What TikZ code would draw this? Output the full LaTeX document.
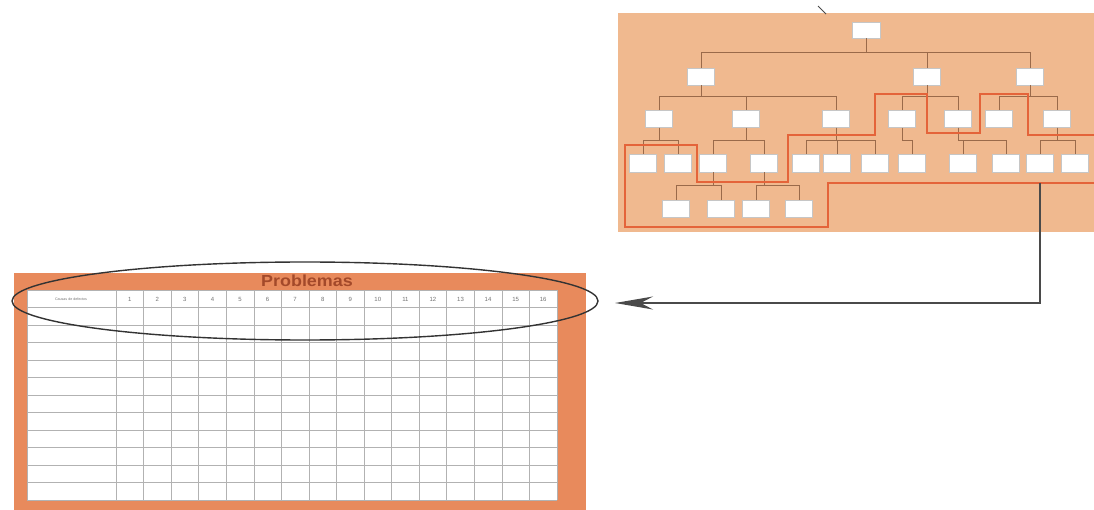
\documentclass[tikz,border=0pt]{standalone}
\usepackage{fontspec}
\setmainfont{Liberation Sans}
\usetikzlibrary{shapes.geometric,arrows.meta}
\definecolor{panelc}{HTML}{F0B98F}
\definecolor{redl}{HTML}{E4643A}
\definecolor{framec}{HTML}{E88A5C}
\definecolor{probc}{HTML}{A3492A}
\definecolor{edgec}{HTML}{9A6A4A}
\definecolor{arrc}{HTML}{4A4A4A}
\tikzset{
  tbox/.style={draw=gray!45, fill=white, minimum width=27pt, minimum height=17pt, inner sep=0pt},
  tedge/.style={draw=edgec, line width=0.6pt},
  hilite/.style={draw=redl, line width=2.8pt, line join=miter},
  gridl/.style={draw=gray!60, line width=0.6pt},
  hnum/.style={font=\fontsize{6}{6}\selectfont, text=gray!90!black, inner sep=0pt},
}
\begin{document}
\begin{tikzpicture}[x=1pt,y=-1pt]
\useasboundingbox (0,0) rectangle (1094,510);
\fill[white] (0,0) rectangle (1094,510);

% ---------- tree panel ----------
\fill[panelc] (618,13) rectangle (1094,232);
\draw[arrc, line width=0.8pt] (818,6) -- (826,14);

\node[tbox, minimum width=28pt, minimum height=16pt] (r) at (866,30) {};
\foreach \n/\x in {a1/701, a2/927, a3/1030}
  \node[tbox] (\n) at (\x,76.5) {};
\foreach \n/\x in {b1/659, b2/746, b3/836, b4/902, b5/958, b6/999, b7/1057}
  \node[tbox] (\n) at (\x,119) {};
\foreach \n/\x in {c1/643, c2/678, c3/713, c4/764, c5/806, c6/837, c7/875, c8/912, c9/963, c10/1006, c11/1040, c12/1075}
  \node[tbox, minimum height=18pt] (\n) at (\x,163) {};
\foreach \n/\x in {d1/676, d2/721, d3/756, d4/799}
  \node[tbox] (\n) at (\x,208.5) {};

\foreach \p/\c/\h in {r/a1/14, r/a2/14, r/a3/14,
  a1/b1/11, a1/b2/11, a1/b3/11, a2/b4/11, a2/b5/11, a3/b6/11, a3/b7/11,
  b1/c1/12.5, b1/c2/12.5, b2/c3/12.5, b2/c4/12.5, b3/c5/12.5, b3/c6/12.5, b3/c7/12.5,
  b4/c8/12.5, b5/c9/12.5, b5/c10/12.5, b7/c11/12.5, b7/c12/12.5,
  c3/d1/13, c3/d2/13, c4/d3/13, c4/d4/13}
  \draw[tedge] (\p.south) -- ++(0,\h) -| (\c.north);

% highlighted group outline
\draw[hilite] (1094,183) -- (828,183) -- (828,227) -- (625,227) -- (625,145)
  -- (697,145) -- (697,182) -- (788,182) -- (788,135) -- (875,135) -- (875,94)
  -- (927,94) -- (927,133) -- (980,133) -- (980,94) -- (1028,94) -- (1028,135)
  -- (1094,135);

% ---------- table ----------
\fill[framec] (14,273) rectangle (586,510);
\fill[white] (27,290) rectangle (557,500);
\node[text=probc, font=\bfseries\fontsize{16}{16}\selectfont, xscale=1.12, inner sep=0pt] (prob) at (307,281) {Problemas};
\foreach \k in {0,...,12}
  \draw[gridl] (27,290+17.5*\k) -- (557,290+17.5*\k);
\draw[gridl] (27,290) -- (27,500);
\foreach \k in {0,...,16}
  \draw[gridl] (116+27.5625*\k,290) -- (116+27.5625*\k,500);
\node[hnum, font=\fontsize{3.6}{4}\selectfont] (hd) at (71,299) {Causas de defectos};
\foreach \k in {1,...,16}
  \node[hnum] (n\k) at (116+27.5625*\k-13.8,299) {\k};

% ellipse around header row
\node[ellipse, draw=black!80, line width=1.4pt, minimum width=586pt, minimum height=78pt, inner sep=0pt] (ell) at (305,301) {};

% ---------- connector ----------
\coordinate (arrS) at (1040,183);
\coordinate (arrT) at (615,303);
\draw[arrc, line width=1.6pt, -{Stealth[length=38pt, width=13pt]}] (arrS) |- (arrT);
\end{tikzpicture}
\end{document}
